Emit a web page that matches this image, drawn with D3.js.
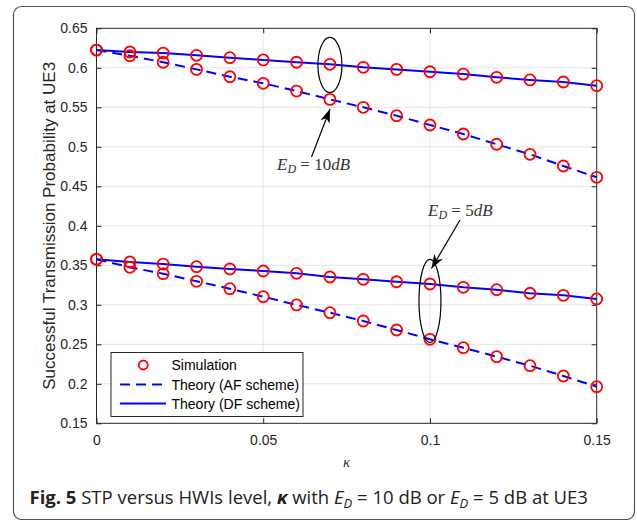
<!DOCTYPE html>
<html>
<head>
<meta charset="utf-8">
<script src="https://cdnjs.cloudflare.com/ajax/libs/d3/7.8.5/d3.min.js"></script>
<style>
  body { margin: 0; background: #fff; }
  svg { display: block; }
</style>
</head>
<body>
<div id="chart"></div>
<script>
// kappa values along the x axis
const kappa = [0, 0.01, 0.02, 0.03, 0.04, 0.05, 0.06, 0.07, 0.08, 0.09, 0.1, 0.11, 0.12, 0.13, 0.14, 0.15]

// E_D = 10 dB
const df10 = [0.6225, 0.620, 0.6187, 0.6158, 0.6128, 0.610, 0.607, 0.6044, 0.6006, 0.598, 0.595, 0.592, 0.588, 0.5846, 0.582, 0.5774]
const af10 = [0.6225, 0.6153, 0.607, 0.598, 0.5887, 0.5804, 0.5706, 0.560, 0.550, 0.5394, 0.5276, 0.5162, 0.5032, 0.4905, 0.4757, 0.4614]

// E_D = 5 dB
const df5 = [0.3576, 0.3542, 0.3516, 0.3482, 0.3453, 0.3428, 0.3399, 0.3352, 0.3323, 0.3292, 0.3263, 0.3221, 0.3191, 0.3146, 0.312, 0.3074]
const af5 = [0.3576, 0.3475, 0.3394, 0.3297, 0.3204, 0.3103, 0.2998, 0.290, 0.2795, 0.2681, 0.2563, 0.2457, 0.2343, 0.2229, 0.2099, 0.1963]

const xTicks = [0, 0.05, 0.1, 0.15]
const yTicks = [0.15, 0.2, 0.25, 0.3, 0.35, 0.4, 0.45, 0.5, 0.55, 0.6, 0.65]
const legendLabels = ['Simulation', 'Theory (AF scheme)', 'Theory (DF scheme)']

const width = 637
const height = 522
const margin = { left: 96.5, top: 28.3, right: 637 - 596.7, bottom: 522 - 423.3 }
const axisColor = '#262626'

const svg = d3.select('#chart').append('svg').attr('width', width).attr('height', height)

// outer figure frame
svg.append('rect')
  .attr('x', 13.5).attr('y', 6.5)
  .attr('width', 621).attr('height', 513)
  .attr('rx', 8).attr('ry', 8)
  .attr('fill', 'none')
  .attr('stroke', '#555')
  .attr('stroke-width', 1.2)

const xScale = d3.scaleLinear().domain([0, 0.15]).range([margin.left, width - margin.right])
const yScale = d3.scaleLinear().domain([0.15, 0.65]).range([height - margin.bottom, margin.top])

const x0 = xScale.range()[0], x1 = xScale.range()[1]
const y0 = yScale.range()[0], y1 = yScale.range()[1]

// grid
const grid = svg.append('g').attr('stroke', '#e3e3e3').attr('stroke-width', 1)
grid.selectAll('.gx').data(xTicks.slice(1, -1)).enter().append('line')
  .attr('x1', d => xScale(d)).attr('x2', d => xScale(d))
  .attr('y1', y1).attr('y2', y0)
grid.selectAll('.gy').data(yTicks.slice(1, -1)).enter().append('line')
  .attr('x1', x0).attr('x2', x1)
  .attr('y1', d => yScale(d)).attr('y2', d => yScale(d))

// axes (ticks inward, box on)
const fmt = d => (d === 0 ? '0' : String(d))
const xAxis = d3.axisBottom(xScale).tickValues(xTicks).tickFormat(fmt).tickSizeInner(-5).tickSizeOuter(0).tickPadding(12)
const yAxis = d3.axisLeft(yScale).tickValues(yTicks).tickFormat(fmt).tickSizeInner(-5).tickSizeOuter(0).tickPadding(9)
const xTop = d3.axisTop(xScale).tickValues(xTicks).tickFormat('').tickSizeInner(-5).tickSizeOuter(0)
const yRight = d3.axisRight(yScale).tickValues(yTicks).tickFormat('').tickSizeInner(-5).tickSizeOuter(0)

function styleAxis(g) {
  g.select('.domain').remove()
  g.selectAll('line').attr('stroke', axisColor)
  g.selectAll('text').attr('fill', axisColor).attr('font-family', 'Liberation Sans, Arial, sans-serif').attr('font-size', '14px')
}

svg.append('g').attr('transform', 'translate(0,' + y0 + ')').call(xAxis).call(styleAxis)
svg.append('g').attr('transform', 'translate(' + x0 + ',0)').call(yAxis).call(styleAxis)
svg.append('g').attr('transform', 'translate(0,' + y1 + ')').call(xTop).call(styleAxis)
svg.append('g').attr('transform', 'translate(' + x1 + ',0)').call(yRight).call(styleAxis)

svg.append('rect')
  .attr('x', x0).attr('y', y1)
  .attr('width', x1 - x0).attr('height', y0 - y1)
  .attr('fill', 'none').attr('stroke', axisColor).attr('stroke-width', 1)

// lines
const line = d3.line().x((d, i) => xScale(kappa[i])).y(d => yScale(d))
const seriesLines = [
  { values: df10, dash: null },
  { values: af10, dash: '10,6' },
  { values: df5, dash: null },
  { values: af5, dash: '10,6' }
]
svg.selectAll('.series').data(seriesLines).enter().append('path')
  .attr('d', d => line(d.values))
  .attr('fill', 'none')
  .attr('stroke', '#0000ff')
  .attr('stroke-width', 2)
  .attr('stroke-dasharray', d => d.dash)

// simulation markers
const points = []
;[df10, af10, df5, af5].forEach(function(vals) {
  vals.forEach(function(v, i) { points.push({ x: kappa[i], y: v }) })
})
svg.selectAll('.sim').data(points).enter().append('circle')
  .attr('cx', d => xScale(d.x))
  .attr('cy', d => yScale(d.y))
  .attr('r', 5.5)
  .attr('fill', 'none')
  .attr('stroke', '#ff0000')
  .attr('stroke-width', 1.8)

// annotations
const defs = svg.append('defs')
defs.append('marker')
  .attr('id', 'arrow')
  .attr('viewBox', '0 0 14 10')
  .attr('refX', 14).attr('refY', 5)
  .attr('markerWidth', 14).attr('markerHeight', 10)
  .attr('markerUnits', 'userSpaceOnUse')
  .attr('orient', 'auto')
  .append('path')
  .attr('d', 'M0,0 L14,5 L0,10 L4,5 Z')
  .attr('fill', '#000')

function annotate(kx, yTop, yBottom, rx, tip, tail) {
  const cy = (yScale(yTop) + yScale(yBottom)) / 2
  const ry = (yScale(yBottom) - yScale(yTop)) / 2
  svg.append('ellipse')
    .attr('cx', xScale(kx)).attr('cy', cy)
    .attr('rx', rx).attr('ry', ry)
    .attr('fill', 'none').attr('stroke', '#000').attr('stroke-width', 1.2)
  svg.append('line')
    .attr('x1', tail[0]).attr('y1', tail[1])
    .attr('x2', tip[0]).attr('y2', tip[1])
    .attr('stroke', '#000').attr('stroke-width', 1.2)
    .attr('marker-end', 'url(#arrow)')
}
annotate(0.07, 0.6384, 0.5688, 12, [330, 109], [311.5, 157])
annotate(0.1, 0.3576, 0.2522, 11, [431.5, 268.5], [460, 220])

function mathLabel(x, y, num) {
  const t = svg.append('text')
    .attr('x', x).attr('y', y)
    .attr('font-family', 'Liberation Serif, Times New Roman, serif')
    .attr('font-size', '17px')
    .attr('fill', '#333')
  t.append('tspan').attr('font-style', 'italic').text('E')
  t.append('tspan').attr('font-style', 'italic').attr('font-size', '12px').attr('dy', 3).text('D')
  t.append('tspan').attr('dy', -3).text(' = ' + num)
  t.append('tspan').attr('font-style', 'italic').text('dB')
}
mathLabel(277, 170, '10')
mathLabel(428, 216, '5')

// legend
const legend = svg.append('g')
legend.append('rect')
  .attr('x', 111).attr('y', 352.5)
  .attr('width', 192).attr('height', 64)
  .attr('fill', '#fff').attr('stroke', axisColor).attr('stroke-width', 1)
const rowY = [365, 384.5, 403.5]
legend.selectAll('.lt').data(legendLabels).enter().append('text')
  .attr('x', 171.5)
  .attr('y', (d, i) => rowY[i])
  .attr('dy', '0.36em')
  .attr('font-family', 'Liberation Sans, Arial, sans-serif')
  .attr('font-size', '14px')
  .attr('fill', '#000')
  .text(d => d)
legend.append('circle')
  .attr('cx', 143.3).attr('cy', rowY[0]).attr('r', 4.5)
  .attr('fill', 'none').attr('stroke', '#ff0000').attr('stroke-width', 1.8)
legend.append('line')
  .attr('x1', 120).attr('x2', 166).attr('y1', rowY[1]).attr('y2', rowY[1])
  .attr('stroke', '#0000ff').attr('stroke-width', 2).attr('stroke-dasharray', '10,6')
legend.append('line')
  .attr('x1', 120).attr('x2', 166).attr('y1', rowY[2]).attr('y2', rowY[2])
  .attr('stroke', '#0000ff').attr('stroke-width', 2)

// axis titles
svg.append('text')
  .attr('x', (x0 + x1) / 2).attr('y', 467)
  .attr('text-anchor', 'middle')
  .attr('font-family', 'Liberation Serif, serif')
  .attr('font-style', 'italic')
  .attr('font-size', '15px')
  .attr('fill', '#333')
  .text('κ')

svg.append('text')
  .attr('transform', 'translate(55,' + (y0 + y1) / 2 + ') rotate(-90)')
  .attr('text-anchor', 'middle')
  .attr('font-family', 'Liberation Sans, Arial, sans-serif')
  .attr('font-size', '17px')
  .attr('fill', axisColor)
  .text('Successful Transmission Probability at UE3')

// caption
const cap = svg.append('text')
  .attr('x', 29.5).attr('y', 504)
  .attr('font-family', 'Open Sans, Noto Sans, sans-serif')
  .attr('font-size', '18.5px')
  .attr('fill', '#222')
cap.append('tspan').attr('font-weight', 'bold').text('Fig. 5')
cap.append('tspan').text(' STP versus HWIs level, ')
cap.append('tspan').attr('font-weight', 'bold').attr('font-style', 'italic').text('κ')
cap.append('tspan').text(' with ')
cap.append('tspan').attr('font-style', 'italic').text('E')
cap.append('tspan').attr('font-style', 'italic').attr('font-size', '13px').attr('dy', 4).text('D')
cap.append('tspan').attr('dy', -4).text(' = 10 dB or ')
cap.append('tspan').attr('font-style', 'italic').text('E')
cap.append('tspan').attr('font-style', 'italic').attr('font-size', '13px').attr('dy', 4).text('D')
cap.append('tspan').attr('dy', -4).text(' = 5 dB at UE3')
</script>
</body>
</html>
